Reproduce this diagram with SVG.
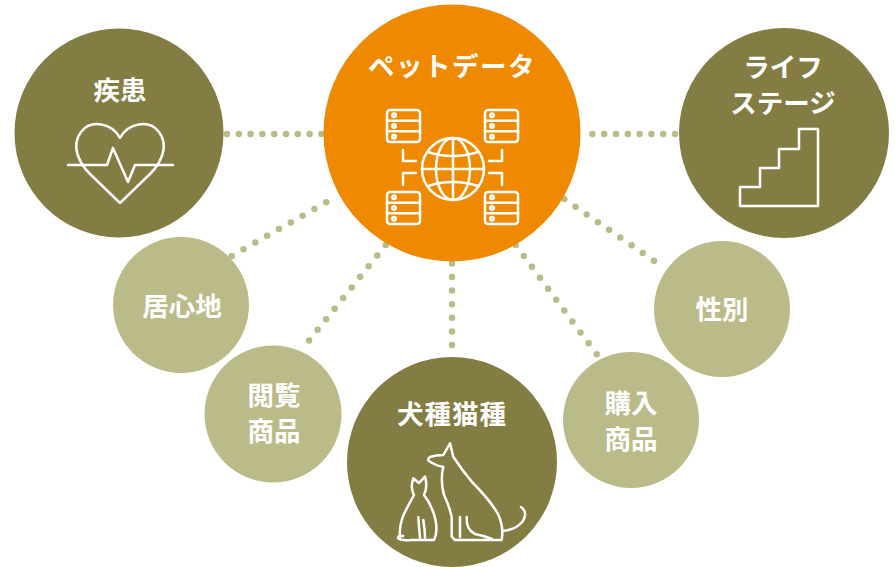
<svg xmlns="http://www.w3.org/2000/svg" width="895" height="567" viewBox="0 0 895 567">
  <style>
    .dots { fill: none; stroke: #bbbb8a; stroke-width: 6.5; stroke-linecap: round; stroke-dasharray: 0 13.6; }
    .dots-h { stroke-dasharray: 0 11.8; }
    .dark { fill: #837c43; }
    .light { fill: #bbbb8a; }
    .hub { fill: #ef8a00; }
    .label { fill: #ffffff; font-family: "Noto Sans CJK JP", "Noto Sans", sans-serif; font-weight: 700; font-size: 26.5px; text-anchor: middle; }
    .icon { fill: none; stroke: #ffffff; stroke-width: 2.5; stroke-linecap: round; stroke-linejoin: round; }
  </style>
  <defs>
    <g id="server">
      <rect x="0" y="0" width="33" height="32" rx="3" class="icon"/>
      <line x1="0" y1="10.7" x2="33" y2="10.7" class="icon"/>
      <line x1="0" y1="21.3" x2="33" y2="21.3" class="icon"/>
      <circle cx="7" cy="5.3" r="1.8" class="icon" stroke-width="1.8"/>
      <circle cx="7" cy="16" r="1.8" class="icon" stroke-width="1.8"/>
      <circle cx="7" cy="26.7" r="1.8" class="icon" stroke-width="1.8"/>
    </g>
  </defs>
  <rect width="895" height="567" fill="#ffffff"/>

  <!-- dotted connectors -->
  <g id="connectors">
    <path class="dots dots-h" d="M227,134 L322,134"/>
    <path class="dots dots-h" d="M675,134 L582,134"/>
    <path class="dots" d="M231.7,256 L337.7,195.7"/>
    <path class="dots" d="M385.7,245 L303,348"/>
    <path class="dots" d="M452,345 L452,263"/>
    <path class="dots" d="M515.7,245 L596.7,354.3"/>
    <path class="dots" d="M564.3,199 L665,268.3"/>
  </g>

  <!-- hub: pet data -->
  <g id="node-pet-data">
    <circle class="hub" cx="452" cy="133" r="128.5"/>
    <text class="label" x="452" y="76" font-size="27" letter-spacing="1.5">ペットデータ</text>
    <use href="#server" x="387" y="110"/>
    <use href="#server" x="485" y="110"/>
    <use href="#server" x="387" y="192"/>
    <use href="#server" x="485" y="192"/>
    <path class="icon" d="M403,150 V161 H416 M403,185 V173 H416 M502,150 V161 H489 M502,185 V173 H489"/>
    <circle class="icon" cx="453" cy="169" r="31"/>
    <ellipse class="icon" cx="453" cy="169" rx="17" ry="31"/>
    <line class="icon" x1="453" y1="138" x2="453" y2="200"/>
    <line class="icon" x1="422" y1="169" x2="484" y2="169"/>
    <path class="icon" d="M428,152 Q453,160 478,152 M428,186 Q453,178 478,186"/>
  </g>

  <!-- disease -->
  <g id="node-disease">
    <circle class="dark" cx="119" cy="133" r="104.5"/>
    <text class="label" x="120" y="100">疾患</text>
    <path class="icon" d="M120,138 C112,123 91,119 81,132 C71,145 78,162 90,174 L120,203 L150,174 C162,162 169,145 159,132 C149,119 128,123 120,138 Z"/>
    <path class="icon" d="M68,165 H107 L113,148 L128,182 L135,165 H173"/>
  </g>

  <!-- life stage -->
  <g id="node-life-stage">
    <circle class="dark" cx="784" cy="133" r="105"/>
    <text class="label" x="783" y="77">ライフ</text>
    <text class="label" x="783" y="113">ステージ</text>
    <path class="icon" d="M740,206 V187 H760 V168 H779 V149 H799 V129 H818 V206 Z"/>
  </g>

  <!-- comfort -->
  <g id="node-comfort">
    <circle class="light" cx="181" cy="305" r="68"/>
    <text class="label" x="182" y="316">居心地</text>
  </g>

  <!-- viewed items -->
  <g id="node-viewed">
    <circle class="light" cx="273" cy="414" r="68.5"/>
    <text class="label" x="274" y="405">閲覧</text>
    <text class="label" x="274" y="441">商品</text>
  </g>

  <!-- breed -->
  <g id="node-breed">
    <circle class="dark" cx="452" cy="462" r="105"/>
    <text class="label" x="452" y="424" letter-spacing="1">犬種猫種</text>
    <!-- dog -->
    <path class="icon" d="M455,540 L451.7,536.7 V517 Q449,505 444,495 Q440,480 443.3,466.7 Q436,466 429,461 Q427,459 430,457 Q436,455 443.3,455 L450,443.3 L453.3,456.7 Q462,470 472,482 Q490,500 498,514 Q504,527 501.7,540 H455"/>
    <path class="icon" d="M460,517 V537 M466.7,517 Q466,530 475,534 Q485,536 492,539"/>
    <path class="icon" d="M502,531 Q516,530 523,521 Q528,512 521,507"/>
    <!-- cat -->
    <path class="icon" d="M400,538 Q399,525 404,514 Q410,502 414,495 Q410,488 413.3,478.3 L419,483 L425,476.7 Q428,487 424,495 Q432,505 435.5,520 Q438,532 434,540 H412 Q400,541 398,538 Q398,535 403,536"/>
    <path class="icon" d="M418.3,517 Q419,527 420,538 M423.3,520 Q425,530 425,538"/>
  </g>

  <!-- purchased items -->
  <g id="node-purchased">
    <circle class="light" cx="631" cy="420" r="68"/>
    <text class="label" x="631" y="413">購入</text>
    <text class="label" x="631" y="449">商品</text>
  </g>

  <!-- sex -->
  <g id="node-sex">
    <circle class="light" cx="722" cy="309" r="68"/>
    <text class="label" x="722" y="319">性別</text>
  </g>
</svg>
